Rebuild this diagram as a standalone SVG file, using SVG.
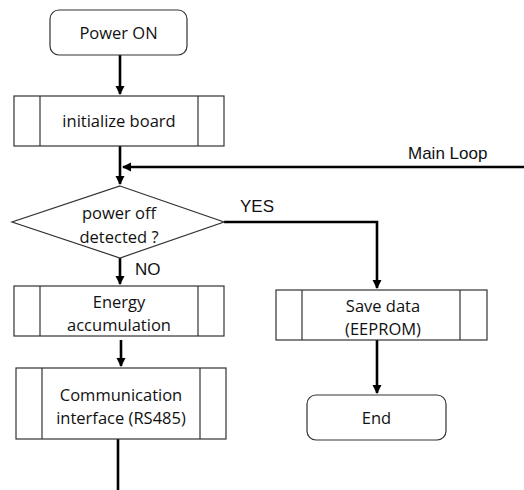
<svg xmlns="http://www.w3.org/2000/svg" width="524" height="490" viewBox="0 0 524 490">
<defs>
<marker id="ah" markerWidth="10" markerHeight="10" refX="8" refY="5" orient="auto" markerUnits="userSpaceOnUse" viewBox="0 0 10 10">
<path d="M0,0.5 L9,5 L0,9.5 Z" fill="#000"/>
</marker>
</defs>
<style>
.box{fill:#fff;stroke:#333;stroke-width:1.2}
.in{stroke:#333;stroke-width:1.2}
.t{font-family:"Open Sans","Liberation Sans",sans-serif;font-size:16.5px;fill:#111;text-anchor:middle}
.l{font-family:"Liberation Sans",Arial,sans-serif;font-size:17px;fill:#111}
.c{fill:none;stroke:#000;stroke-width:2.6}
</style>
<rect width="524" height="490" fill="#fff"/>
<g id="connectors">
<line class="c" x1="120" y1="55" x2="120" y2="94" marker-end="url(#ah)"/>
<line class="c" x1="120" y1="146" x2="120" y2="184" marker-end="url(#ah)"/>
<line class="c" x1="524" y1="167" x2="123" y2="167" marker-end="url(#ah)"/>
<polyline class="c" points="224,222 377,222 377,288" marker-end="url(#ah)"/>
<line class="c" x1="120" y1="258" x2="120" y2="284" marker-end="url(#ah)"/>
<line class="c" x1="121" y1="340" x2="121" y2="366" marker-end="url(#ah)"/>
<line class="c" x1="377" y1="340" x2="377" y2="393" marker-end="url(#ah)"/>
<line class="c" x1="118" y1="439" x2="118" y2="490"/>
<text class="l" x="408" y="159">Main Loop</text>
<text class="l" x="240" y="212">YES</text>
<text class="l" x="135" y="275">NO</text>
</g>
<g id="power-on">
<rect class="box" x="50" y="10" width="137" height="45" rx="9"/>
<text class="t" x="118.5" y="38.5">Power ON</text>
</g>
<g id="init-board">
<rect class="box" x="14" y="96" width="210" height="50"/>
<line class="in" x1="40" y1="96" x2="40" y2="146"/>
<line class="in" x1="198" y1="96" x2="198" y2="146"/>
<text class="t" x="119" y="127">initialize board</text>
</g>
<g id="decision">
<polygon class="box" points="120,186 224,222 120,258 12,222"/>
<text class="t" x="119" y="219">power off</text>
<text class="t" x="119" y="243">detected ?</text>
</g>
<g id="energy">
<rect class="box" x="14" y="286" width="210" height="50"/>
<line class="in" x1="40" y1="286" x2="40" y2="336"/>
<line class="in" x1="198" y1="286" x2="198" y2="336"/>
<text class="t" x="119" y="308">Energy</text>
<text class="t" x="119" y="331">accumulation</text>
</g>
<g id="comm">
<rect class="box" x="16" y="368" width="210" height="71"/>
<line class="in" x1="42" y1="368" x2="42" y2="439"/>
<line class="in" x1="200" y1="368" x2="200" y2="439"/>
<text class="t" x="121" y="401">Communication</text>
<text class="t" x="121" y="424">interface (RS485)</text>
</g>
<g id="save-data">
<rect class="box" x="276" y="290" width="211" height="50"/>
<line class="in" x1="302" y1="290" x2="302" y2="340"/>
<line class="in" x1="460" y1="290" x2="460" y2="340"/>
<text class="t" x="383" y="312">Save data</text>
<text class="t" x="383" y="335">(EEPROM)</text>
</g>
<g id="end">
<rect class="box" x="307" y="395" width="139" height="45" rx="9"/>
<text class="t" x="376.5" y="423.5">End</text>
</g>
</svg>
